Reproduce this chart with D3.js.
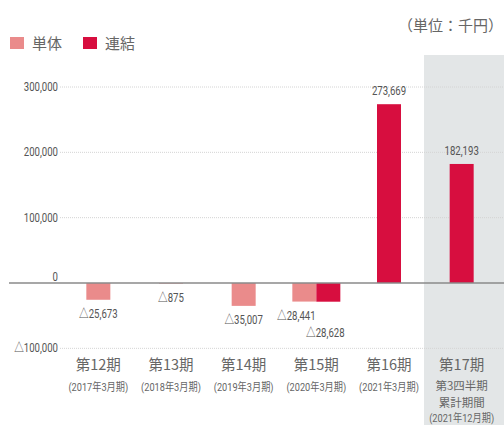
<!DOCTYPE html>
<html>
<head>
<meta charset="utf-8">
<script src="https://cdn.jsdelivr.net/npm/d3@7"></script>
<style>
  body { margin: 0; background: #fff; }
  svg { display: block; font-family: "Noto Sans CJK JP", "Noto Sans", sans-serif; }
</style>
</head>
<body>
<div id="wrapper"></div>
<script>
// data (単位：千円)
const periods = ["第12期", "第13期", "第14期", "第15期", "第16期", "第17期"]
const periodNotes = [
  ["(2017年3月期)"],
  ["(2018年3月期)"],
  ["(2019年3月期)"],
  ["(2020年3月期)"],
  ["(2021年3月期)"],
  ["第3四半期", "累計期間", "(2021年12月期)"],
]
const singleValues = [-25673, -875, -35007, -28441, null, null]
const consolidatedValues = [null, null, null, -28628, 273669, 182193]
const yTicks = [300000, 200000, 100000, 0, -100000]
const seriesNames = ["単体", "連結"]

const colors = { single: "#ea8b8b", consolidated: "#d70e3f" }

// the numbers in the original use a narrow face, so squeeze them a bit
function narrowText(sel, x, y, size, anchor, txt) {
  return sel.append("text")
    .attr("transform", `translate(${x},${y}) scale(0.8,1)`)
    .attr("text-anchor", anchor)
    .attr("fill", "#555")
    .style("font-family", "Roboto, 'Noto Sans CJK JP', sans-serif")
    .style("font-size", size + "px")
    .text(txt)
}

function drawChart() {
  const dimensions = {
    width: 504,
    height: 425,
    margin: { top: 87, right: 6, bottom: 76, left: 62 },
  }

  const wrapper = d3.select("#wrapper")
    .append("svg")
      .attr("width", dimensions.width)
      .attr("height", dimensions.height)

  const xScale = d3.scaleBand()
    .domain(periods)
    .range([dimensions.margin.left, dimensions.width - dimensions.margin.right])

  // 300,000 at y=87, 0 at y=283
  const yScale = d3.scaleLinear()
    .domain([0, 300000])
    .range([283, 87])

  // shaded area behind the latest (quarterly) period
  wrapper.append("rect")
    .attr("x", 424)
    .attr("y", 55)
    .attr("width", dimensions.width - 424)
    .attr("height", dimensions.height - 55)
    .attr("fill", "#e3e6e7")

  // gridlines
  wrapper.selectAll(".grid")
    .data(yTicks.filter(d => d !== 0))
    .enter().append("line")
      .attr("x1", 60)
      .attr("x2", dimensions.width)
      .attr("y1", d => yScale(d))
      .attr("y2", d => yScale(d))
      .attr("stroke", "#d4d4d4")
      .attr("stroke-width", 1)
      .attr("stroke-dasharray", "1,1")

  const fmt = d3.format(",")
  const label = v => v < 0 ? "△" + fmt(-v) : fmt(v)

  // y tick labels
  yTicks.forEach(t => {
    narrowText(wrapper, 58, yScale(t) + (t === 0 ? -2 : 4), 12, "end", label(t))
  })

  // bars
  const barWidth = 24
  const bars = []
  periods.forEach((p, i) => {
    const s = singleValues[i], c = consolidatedValues[i]
    const center = xScale(p) + xScale.bandwidth() / 2
    if (s !== null && c !== null) {
      bars.push({ p, v: s, x: center - barWidth, color: colors.single, pair: "left" })
      bars.push({ p, v: c, x: center, color: colors.consolidated, pair: "right" })
    } else if (s !== null) {
      bars.push({ p, v: s, x: center - barWidth / 2, color: colors.single })
    } else if (c !== null) {
      bars.push({ p, v: c, x: center - barWidth / 2, color: colors.consolidated })
    }
  })

  wrapper.selectAll(".bar")
    .data(bars)
    .enter().append("rect")
      .attr("x", d => d.x)
      .attr("y", d => yScale(Math.max(0, d.v)))
      .attr("width", barWidth)
      .attr("height", d => Math.abs(yScale(d.v) - yScale(0)))
      .attr("fill", d => d.color)

  // value labels
  bars.forEach(d => {
    const x = d.x + barWidth / 2 + (d.pair === "left" ? -8 : d.pair === "right" ? -3 : 0)
    const y = d.v >= 0
      ? yScale(d.v) - 9
      : yScale(d.v) + 18 + (d.pair === "right" ? 17 : 0)
    narrowText(wrapper, x, y, 12, "middle", label(d.v))
  })

  // zero line
  wrapper.append("line")
    .attr("x1", 9)
    .attr("x2", dimensions.width)
    .attr("y1", yScale(0))
    .attr("y2", yScale(0))
    .attr("stroke", "#8a8a8a")
    .attr("stroke-width", 1.5)

  // category labels
  periods.forEach((p, i) => {
    const cx = xScale(p) + xScale.bandwidth() / 2
    wrapper.append("text")
      .attr("x", cx)
      .attr("y", 370)
      .attr("text-anchor", "middle")
      .attr("fill", "#666")
      .style("font-size", "14.5px")
      .text(p)
    const notes = periodNotes[i]
    notes.forEach((n, j) => {
      if (n.startsWith("(")) {
        const y = notes.length > 1 ? 422 : 391
        narrowText(wrapper, cx, y, 11.5, "middle", n).attr("fill", "#666")
      } else {
        wrapper.append("text")
          .attr("x", cx)
          .attr("y", 389.5 + j * 17)
          .attr("text-anchor", "middle")
          .attr("fill", "#666")
          .style("font-size", "11.5px")
          .text(n)
      }
    })
  })

  // legend
  const legendX = [10, 83]
  seriesNames.forEach((name, i) => {
    wrapper.append("rect")
      .attr("x", legendX[i])
      .attr("y", 37)
      .attr("width", 14)
      .attr("height", 12)
      .attr("fill", i === 0 ? colors.single : colors.consolidated)
    wrapper.append("text")
      .attr("x", legendX[i] + 22)
      .attr("y", 49)
      .attr("fill", "#666")
      .style("font-size", "15px")
      .text(name)
  })

  // unit
  wrapper.append("text")
    .attr("x", 503)
    .attr("y", 31)
    .attr("text-anchor", "end")
    .attr("fill", "#666")
    .style("font-size", "15px")
    .text("（単位：千円）")
}
drawChart()
</script>
</body>
</html>
